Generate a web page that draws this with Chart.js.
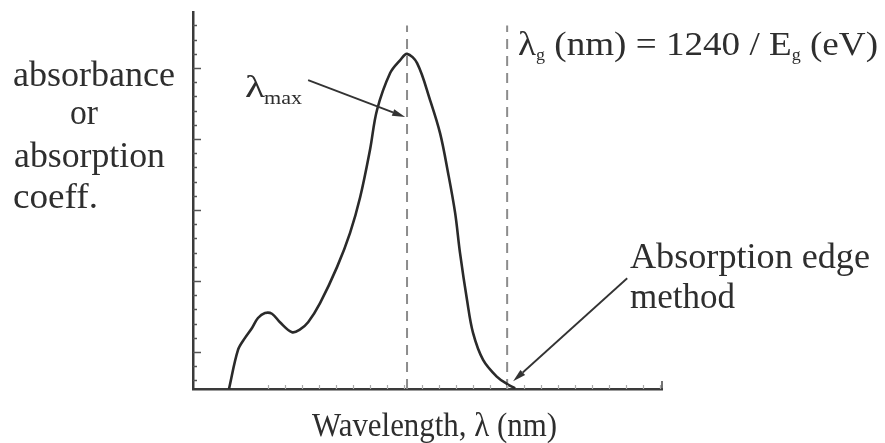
<!DOCTYPE html>
<html><head><meta charset="utf-8">
<script src="https://cdn.jsdelivr.net/npm/chart.js@4.4.0/dist/chart.umd.min.js"></script>
<style>html,body{margin:0;padding:0;background:#fff;}canvas{display:block;}</style>
</head><body>
<canvas id="c" width="885" height="443"></canvas>
<script>
// ---- data (arbitrary wavelength units, arbitrary absorbance units) ----
const wavelength = [-2.29,-1.76,-1.35,-0.94,-0.59,-0.18,0.23,0.70,1.41,1.88,2.35,3.05,4.05,4.81,5.40,5.98,6.39,7.16,7.74,8.15,8.74,9.50,10.09,10.56,10.97,11.26,11.67,12.02,12.61,13.43,14.02,14.49];
const absorbance = [-0.52,0.03,0.20,0.34,0.48,0.55,0.54,0.42,0.28,0.32,0.42,0.69,1.20,1.68,2.18,2.85,3.41,3.93,4.11,4.20,4.07,3.55,3.08,2.52,1.96,1.39,0.73,0.27,-0.11,-0.35,-0.45,-0.51];
const lambdaMax = 8.15;
const lambdaEdge = 14.02;
const dashTop = 4.6;
const xRange = [-4.4, 23.1];
const yRange = [-0.52, 4.79];
const yMajorTicks = [0,1,2,3,4];
const yMinorTicks = [-0.4,-0.2,0.2,0.4,0.6,0.8,1.2,1.4,1.6,1.8,2.2,2.4,2.6,2.8,3.2,3.4,3.6,3.8,4.2,4.4,4.6];
const xMinorTicks = [0,1,2,3,4,5,6,7,8,9,10,11,12,13,14,15,16,17,18,19,20,21,22,23];
// annotation arrows in data coordinates: [fromX, fromY, toX, toY]
const arrowMax = [2.35, 3.83, 8.04, 3.31];
const arrowEdge = [21.06, 1.04, 14.37, -0.41];

const FONT = '"Liberation Serif", "Times New Roman", serif';
const INK = '#2e2e2e';

function drawSegs(ctx, segs, x, y, targetW) {
  let total = 0;
  for (const s of segs) { ctx.font = s.size + 'px ' + FONT; total += ctx.measureText(s.t).width; }
  const sx = targetW ? targetW / total : 1;
  ctx.save();
  ctx.translate(x, y);
  ctx.scale(sx, 1);
  ctx.fillStyle = INK;
  ctx.textBaseline = 'alphabetic';
  ctx.textAlign = 'left';
  let cx = 0;
  for (const s of segs) {
    ctx.font = s.size + 'px ' + FONT;
    ctx.fillText(s.t, cx, s.dy || 0);
    cx += ctx.measureText(s.t).width;
  }
  ctx.restore();
}

function arrow(ctx, x1, y1, x2, y2) {
  ctx.save();
  ctx.strokeStyle = '#333'; ctx.fillStyle = '#333'; ctx.lineWidth = 1.8;
  const a = Math.atan2(y2 - y1, x2 - x1);
  const L = 13, W = 3.5;
  const bx = x2 - L * Math.cos(a), by = y2 - L * Math.sin(a);
  ctx.beginPath(); ctx.moveTo(x1, y1); ctx.lineTo(bx, by); ctx.stroke();
  ctx.beginPath();
  ctx.moveTo(x2, y2);
  ctx.lineTo(bx - W * Math.sin(a), by + W * Math.cos(a));
  ctx.lineTo(bx + W * Math.sin(a), by - W * Math.cos(a));
  ctx.closePath(); ctx.fill();
  ctx.restore();
}

const deco = {
  id: 'deco',
  beforeDraw(chart) {
    const ctx = chart.ctx;
    ctx.save(); ctx.fillStyle = '#fff'; ctx.fillRect(0, 0, chart.width, chart.height); ctx.restore();
  },
  afterDraw(chart) {
    const ctx = chart.ctx, xs = chart.scales.x, ys = chart.scales.y, ca = chart.chartArea;
    ctx.save();
    ctx.strokeStyle = '#555'; ctx.lineWidth = 1.5;
    for (const v of yMajorTicks) { const p = Math.round(ys.getPixelForValue(v)) + 0.5; ctx.beginPath(); ctx.moveTo(ca.left, p); ctx.lineTo(ca.left + 8, p); ctx.stroke(); }
    for (const v of yMinorTicks) { const p = Math.round(ys.getPixelForValue(v)) + 0.5; ctx.beginPath(); ctx.moveTo(ca.left, p); ctx.lineTo(ca.left + 4, p); ctx.stroke(); }
    ctx.strokeStyle = '#aaa'; ctx.lineWidth = 1.2;
    for (const v of xMinorTicks) { const p = Math.round(xs.getPixelForValue(v)) + 0.5; ctx.beginPath(); ctx.moveTo(p, ca.bottom); ctx.lineTo(p, ca.bottom - 4); ctx.stroke(); }
    ctx.strokeStyle = '#444'; ctx.lineWidth = 1.5;
    ctx.beginPath(); ctx.moveTo(ca.right, ca.bottom); ctx.lineTo(ca.right, ca.bottom - 8); ctx.stroke();
    ctx.restore();

    arrow(ctx, xs.getPixelForValue(arrowMax[0]), ys.getPixelForValue(arrowMax[1]), xs.getPixelForValue(arrowMax[2]), ys.getPixelForValue(arrowMax[3]));
    arrow(ctx, xs.getPixelForValue(arrowEdge[0]), ys.getPixelForValue(arrowEdge[1]), xs.getPixelForValue(arrowEdge[2]), ys.getPixelForValue(arrowEdge[3]));

    drawSegs(ctx, [{t:'absorbance', size:35}], 13, 86, 162);
    drawSegs(ctx, [{t:'or', size:35}], 70, 124, 28);
    drawSegs(ctx, [{t:'absorption', size:35}], 14, 167, 151);
    drawSegs(ctx, [{t:'coeff.', size:35}], 13, 208, 85);
    drawSegs(ctx, [{t:'Wavelength, λ (nm)', size:33}], 312, 436, 245);
    drawSegs(ctx, [{t:'λ', size:33}, {t:'g', size:16, dy:5}, {t:' (nm) = 1240 / E', size:33}, {t:'g', size:16, dy:5}, {t:' (eV)', size:33}], 518, 55, 360);
    drawSegs(ctx, [{t:'λ', size:32}], 245, 97, 20);
    drawSegs(ctx, [{t:'max', size:18}], 264, 104, 38);
    drawSegs(ctx, [{t:'Absorption edge', size:35}], 630, 268, 240);
    drawSegs(ctx, [{t:'method', size:35}], 630, 308, 105);
  }
};

new Chart(document.getElementById('c'), {
  type: 'scatter',
  data: {
    datasets: [
      { data: wavelength.map((x, i) => ({x, y: absorbance[i]})), showLine: true, borderColor: '#2a2a2a', borderWidth: 2.6, pointRadius: 0, tension: 0.35 },
      { data: [{x: lambdaMax, y: yRange[0]}, {x: lambdaMax, y: dashTop}], showLine: true, borderColor: '#8c8c8c', borderWidth: 2, borderDash: [10, 7], pointRadius: 0 },
      { data: [{x: lambdaEdge, y: yRange[0]}, {x: lambdaEdge, y: dashTop}], showLine: true, borderColor: '#8c8c8c', borderWidth: 2, borderDash: [10, 7], pointRadius: 0 }
    ]
  },
  options: {
    responsive: false, animation: false, devicePixelRatio: 1,
    layout: { padding: { left: 193, right: 223, top: 12, bottom: 54 } },
    plugins: { legend: { display: false }, tooltip: { enabled: false } },
    scales: {
      x: { type: 'linear', min: xRange[0], max: xRange[1], ticks: { display: false }, grid: { display: false, drawTicks: false }, border: { display: true, color: '#3a3a3a', width: 2.5 }, afterFit(s) { s.height = 0; } },
      y: { type: 'linear', min: yRange[0], max: yRange[1], ticks: { display: false }, grid: { display: false, drawTicks: false }, border: { display: true, color: '#3a3a3a', width: 2.5 }, afterFit(s) { s.width = 0; } }
    }
  },
  plugins: [deco]
});
</script>
</body></html>
